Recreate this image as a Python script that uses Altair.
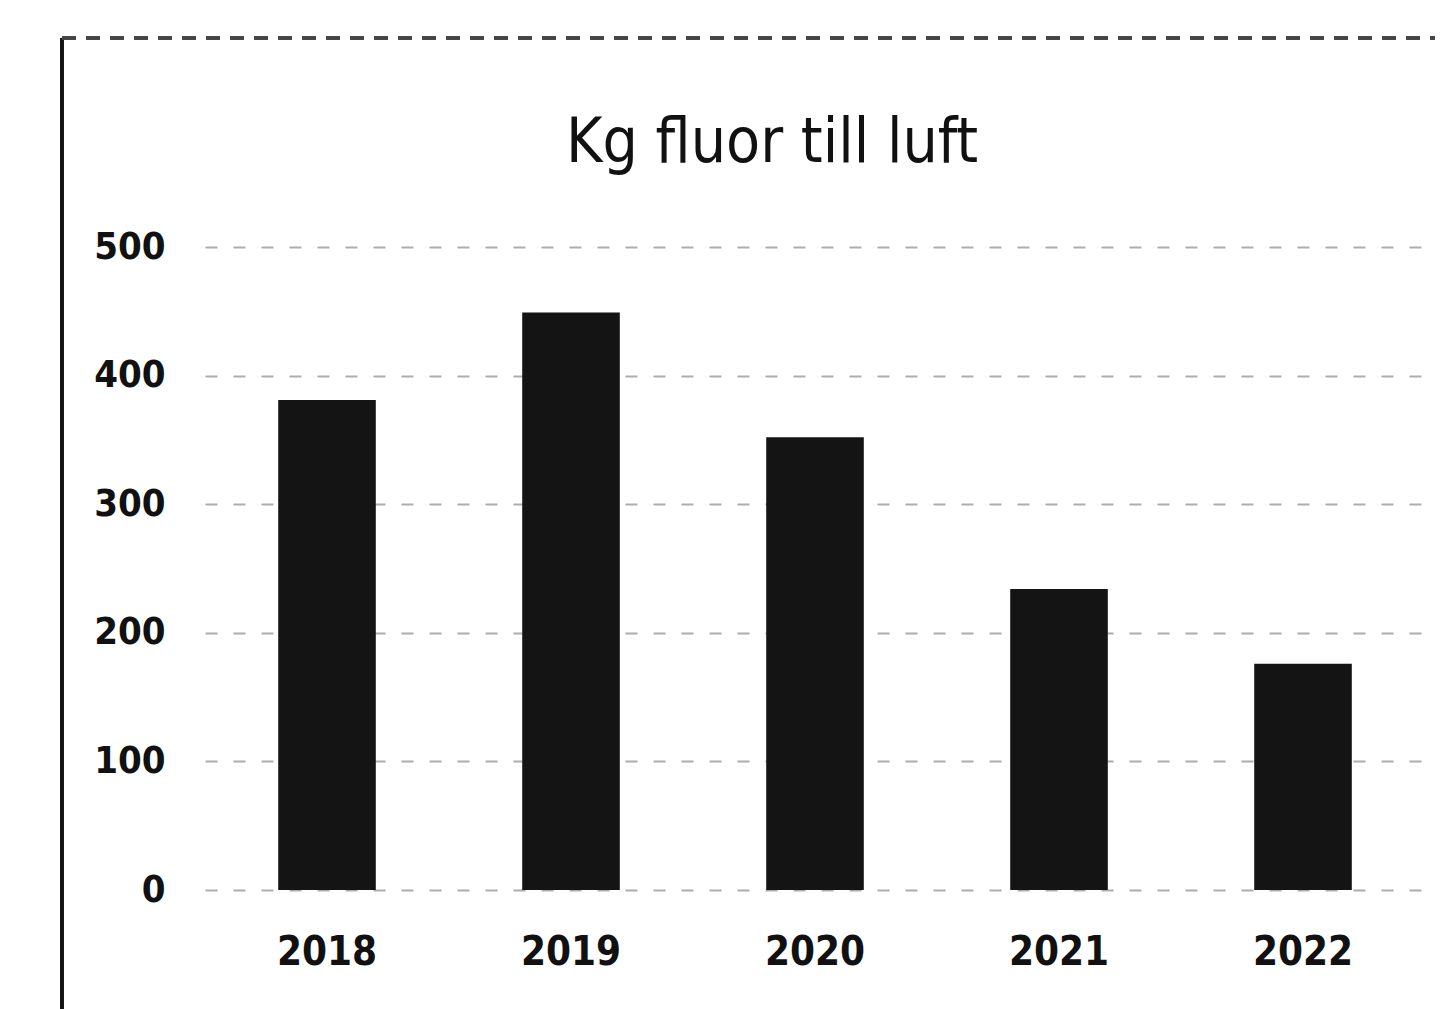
import altair as alt
import pandas as pd

years = ["2018", "2019", "2020", "2021", "2022"]
values = [381, 449, 352, 234, 176]
y_ticks = [0, 100, 200, 300, 400, 500]
title_text = ["Kg fluor till luft"]

df = pd.DataFrame({"year": years, "kg": values})
tdf = pd.DataFrame({"t": title_text})

FONT = "DejaVu Sans Condensed, Liberation Sans Narrow, Roboto, sans-serif"

bars = alt.Chart(df).mark_bar(color="#141414").encode(
    x=alt.X("year:N", sort=years, title=None,
            scale=alt.Scale(paddingInner=0.6, paddingOuter=0.3),
            axis=alt.Axis(labelAngle=0, labelFontSize=40, labelFont=FONT,
                          labelFontWeight="bold",
                          labelColor="#111", labelPadding=42, ticks=False,
                          domain=False, grid=False)),
    y=alt.Y("kg:Q", title=None,
            scale=alt.Scale(domain=[0, 500]),
            axis=alt.Axis(values=y_ticks, labelFontSize=38, labelFont=FONT,
                          labelFontWeight="bold",
                          labelColor="#111", labelPadding=40, ticks=False,
                          domain=False, grid=True, gridColor="#8a8a8a",
                          gridDash=[12, 16], gridWidth=2, gridOpacity=0.7)),
)

title = alt.Chart(tdf).mark_text(font=FONT, fontSize=62, color="#111",
                                 align="center", baseline="alphabetic").encode(
    text="t:N", x=alt.value(567), y=alt.value(-85)
)

left_border = alt.Chart(df).mark_rule(color="#111", strokeWidth=3).encode(
    x=alt.value(-143), y=alt.value(-209), y2=alt.value(800)
)
top_border = alt.Chart(df).mark_rule(color="#444", strokeWidth=3, strokeDash=[14, 10]).encode(
    x=alt.value(-143), x2=alt.value(1230), y=alt.value(-209)
)

chart = alt.layer(bars, title, left_border, top_border).properties(
    width=1220, height=643,
    autosize=alt.AutoSizeParams(type="none"),
    padding={"left": 197, "top": 239, "right": 10, "bottom": 120},
).configure_view(stroke=None)

chart.save("out.html", embed_options={"renderer": "svg", "actions": False})
